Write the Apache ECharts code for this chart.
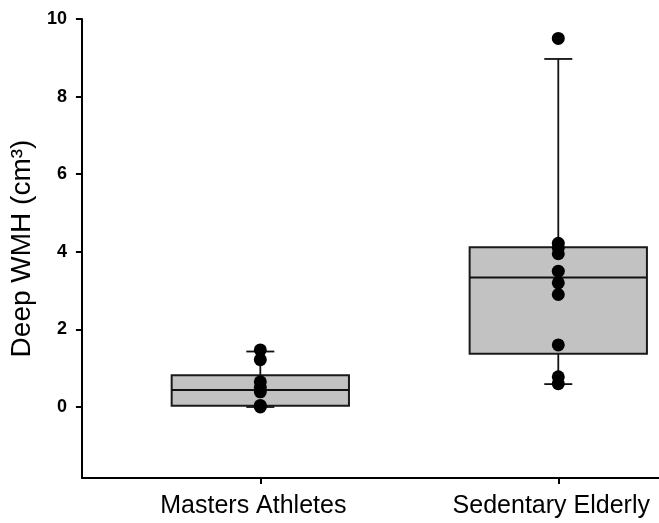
<!DOCTYPE html>
<html>
<head>
<meta charset="utf-8">
<script src="https://cdn.jsdelivr.net/npm/echarts@6/dist/echarts.min.js"></script>
<style>html,body{margin:0;padding:0;background:#fff;}#c{width:659px;height:523px;}</style>
</head>
<body>
<div id="c"></div>
<script>
const categories = ['Masters Athletes', 'Sedentary Elderly'];
// [min(whisker), Q1, median, Q3, max(whisker)]
const boxStats = [
  [0.0, 0.03, 0.44, 0.82, 1.43],
  [0.59, 1.37, 3.34, 4.12, 8.97]
];
const mastersPoints = [1.47, 1.22, 0.65, 0.5, 0.39, 0.04, 0.0];
const sedentaryPoints = [9.5, 4.22, 4.1, 3.95, 3.5, 3.2, 2.9, 1.6, 0.78, 0.6];
const yTicks = [0, 2, 4, 6, 8, 10];

const catPos = categories.map((c, i) => i + 1);
const boxData = boxStats.map((s, i) => [catPos[i]].concat(s));
const pointData = [];
mastersPoints.forEach(v => pointData.push([catPos[0], v]));
sedentaryPoints.forEach(v => pointData.push([catPos[1], v]));

const BOX_W = 0.595, CAP_W = 0.094;
const FONT = 'Liberation Sans, Arial, sans-serif';
const chart = echarts.init(document.getElementById('c'), null, {renderer: 'canvas'});
chart.setOption({
  animation: false,
  backgroundColor: '#fff',
  grid: {left: 80, right: 0, top: 19, bottom: 45, containLabel: false},
  xAxis: {
    type: 'value', min: 0.4013, max: 2.338,
    splitLine: {show: false},
    axisLine: {show: true, onZero: false, lineStyle: {color: '#000', width: 2}},
    axisTick: {show: true, customValues: catPos, length: 6, lineStyle: {color: '#000', width: 2}},
    axisLabel: {show: true, customValues: catPos, margin: 16, color: '#000', fontSize: 25,
      fontFamily: FONT, padding: [0, 14, 0, 0],
      formatter: v => categories[Math.round(v) - 1] || ''}
  },
  yAxis: {
    type: 'value', min: -1.83, max: 10,
    name: 'Deep WMH (cm³)', nameLocation: 'middle', nameRotate: 90, nameGap: 42,
    nameTextStyle: {fontSize: 28, color: '#000', fontFamily: FONT},
    splitLine: {show: false},
    axisLine: {show: true, onZero: false, lineStyle: {color: '#000', width: 2}},
    axisTick: {show: true, customValues: yTicks, length: 6, lineStyle: {color: '#000', width: 2}},
    axisLabel: {show: true, customValues: yTicks, margin: 15, color: '#000', fontSize: 18, fontWeight: 'bold',
      fontFamily: FONT}
  },
  series: [
    {
      type: 'custom',
      data: boxData,
      z: 2,
      renderItem: function (params, api) {
        const x = api.value(0);
        const vmin = api.value(1), q1 = api.value(2), med = api.value(3), q3 = api.value(4), vmax = api.value(5);
        const c = api.coord([x, med]);
        const pMin = api.coord([x, vmin]), pQ1 = api.coord([x, q1]), pQ3 = api.coord([x, q3]), pMax = api.coord([x, vmax]);
        const hw = api.size([BOX_W, 0])[0] / 2;
        const cw = api.size([CAP_W, 0])[0] / 2;
        const ls = {stroke: '#111', lineWidth: 1.8, fill: null};
        return {
          type: 'group',
          children: [
            {type: 'line', shape: {x1: c[0], y1: pQ3[1], x2: c[0], y2: pMax[1]}, style: ls},
            {type: 'line', shape: {x1: c[0], y1: pQ1[1], x2: c[0], y2: pMin[1]}, style: ls},
            {type: 'line', shape: {x1: c[0] - cw, y1: pMax[1], x2: c[0] + cw, y2: pMax[1]}, style: ls},
            {type: 'line', shape: {x1: c[0] - cw, y1: pMin[1], x2: c[0] + cw, y2: pMin[1]}, style: ls},
            {type: 'rect', shape: {x: c[0] - hw, y: pQ3[1], width: hw * 2, height: pQ1[1] - pQ3[1]},
              style: {fill: '#c2c2c2', stroke: '#1a1a1a', lineWidth: 2}},
            {type: 'line', shape: {x1: c[0] - hw, y1: c[1], x2: c[0] + hw, y2: c[1]}, style: {stroke: '#111', lineWidth: 2}}
          ]
        };
      }
    },
    {
      type: 'scatter',
      data: pointData,
      z: 5,
      symbol: 'circle',
      symbolSize: 13,
      itemStyle: {color: '#000', opacity: 1}
    }
  ]
});
</script>
</body>
</html>
